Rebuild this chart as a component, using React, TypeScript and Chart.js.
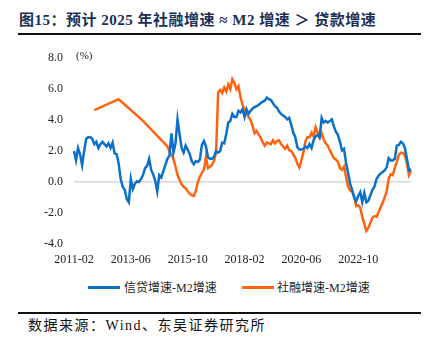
import React, { useEffect, useRef } from 'react';
import { Chart, registerables } from 'chart.js';

Chart.register(...registerables);

// ---- data ----
const START_YEAR = 2011;
const START_MONTH = 2;
const MONTH_COUNT = 167;
const categories: string[] = Array.from({ length: MONTH_COUNT }, (_, i) => {
  const m = START_MONTH - 1 + i;
  return `${START_YEAR + Math.floor(m / 12)}-${String((m % 12) + 1).padStart(2, '0')}`;
});

const xTickLabels = ['2011-02', '2013-06', '2015-10', '2018-02', '2020-06', '2022-10'];
const yMin = -4;
const yMax = 8;
const yStep = 2;

// 信贷增速-M2增速
const loanMinusM2: number[] = [
  2.0, 1.4, 2.2, 1.8, 1.1, 2.0, 2.8, 2.9, 2.9, 2.8,
  2.45, 2.6, 2.2, 2.45, 2.6, 2.45, 2.3, 2.5, 2.2, 2.55,
  1.85, 1.8, 1.2, 0.2, -0.3, -0.5, -1.1, -1.3, 0.2, -0.45,
  -0.1, 0.05, 0.0, 0.2, 0.45, 0.9, 1.05, 1.5, 0.8, 0.5,
  0.1, -0.6, 0.45, 0.3, 0.7, 1.1, 1.5, 1.7, 3.15, 1.9,
  2.5, 4.05, 3.1, 2.2, 1.9, 2.35, 2.1, 1.8, 1.35, 1.15,
  1.35, 1.3, 1.45, 2.4, 2.65, 2.3, 1.6, 1.5, 1.5, 1.65,
  2.0, 1.9, 2.0, 2.55, 2.5, 3.1, 3.85, 3.95, 4.4, 4.2,
  4.2, 4.6, 4.5, 4.7, 4.2, 4.7, 4.4, 4.6, 4.75, 4.85,
  4.9, 5.0, 5.1, 5.2, 5.25, 5.45, 5.35, 5.3, 5.1, 4.9,
  4.8, 4.55, 4.4, 4.3, 4.2, 4.05, 4.15, 3.7, 3.2, 2.9,
  2.25, 2.1, 2.1, 2.15, 2.3, 2.2, 2.45, 2.2, 2.7, 2.95,
  3.05, 2.9, 4.15, 3.85, 3.95, 3.85, 3.95, 4.05, 3.6, 3.25,
  3.05, 2.6, 2.05, 2.15, 1.25, 0.6, -0.1, -0.5, -1.0, -1.25,
  -0.9, -0.65, -1.3, -0.7, -1.3, -1.2, -0.85, -0.5, -0.3, 0.2,
  0.4, 0.55, 0.65, 0.75, 0.95, 1.55, 1.4, 1.4, 1.5, 2.35,
  2.4, 2.6, 2.5, 2.2, 1.5, 0.75, 0.85,
];

// 社融增速-M2增速
const tsfMinusM2: (number | null)[] = [
  null, null, null, null, null, null, null, null, null, null,
  4.65, null, null, null, null, null, null, null, null, null,
  null, null, 5.35, null, null, null, null, null, null, null,
  null, null, null, null, 3.95, null, null, null, null, null,
  null, null, null, null, null, null, 2.3, 2.0, 1.75, 1.5,
  1.0, 0.45, 0.15, -0.15, -0.3, -0.4, -0.6, -0.75, -0.85, -0.9,
  -0.6, 0.0, 0.35, 0.6, 0.8, 1.6, 0.9, 1.0, 1.1, 1.4,
  1.9, 5.8, 5.95, 5.75, 6.1, 5.85, 6.3, 6.0, 6.65, 6.4,
  6.0, 6.2, 5.5, 5.0, 4.7, 4.5, 4.2, 4.0, 3.6, 3.15,
  3.3, 3.05, 2.85, 2.55, 2.35, 2.55, 2.5, 2.45, 2.7, 2.5,
  2.65, 2.7, 2.45, 2.3, 2.15, 2.35, 2.05, 2.0, 1.8, 1.55,
  1.2, 0.95, 1.4, 1.9, 2.65, 2.9, 2.9, 3.2, 2.95, 3.55,
  3.2, 2.85, 3.15, 2.75, 2.5, 2.35, 2.05, 1.8, 1.55, 1.45,
  1.3, 0.9, 0.8, 1.0, 0.35, -0.3, -0.55, -0.6, -0.9, -1.55,
  -1.5, -1.65, -2.25, -2.7, -3.15, -2.95, -2.65, -2.3, -2.2, -2.25,
  -1.95, -1.65, -1.35, -1.0, -0.6, 0.2, 0.5, 0.45, 0.9, 1.3,
  1.75, 1.9, 1.9, 1.7, 1.2, 0.45, 0.75,
];

const BLUE = '#0A70C8';
const ORANGE = '#FF6310';
const SERIF = '"Liberation Serif", "Times New Roman", "Noto Sans CJK SC", serif';

export default function App() {
  const canvasRef = useRef<HTMLCanvasElement | null>(null);

  useEffect(() => {
    const canvas = canvasRef.current;
    if (!canvas) return;
    const tickFont = { family: SERIF, size: 12 };
    const chart = new Chart(canvas, {
      type: 'line',
      data: {
        labels: categories,
        datasets: [
          {
            label: '信贷增速-M2增速',
            data: loanMinusM2,
            borderColor: BLUE,
            backgroundColor: BLUE,
            borderWidth: 2.5,
            pointRadius: 0,
            tension: 0,
          },
          {
            label: '社融增速-M2增速',
            data: tsfMinusM2,
            borderColor: ORANGE,
            backgroundColor: ORANGE,
            borderWidth: 2.5,
            pointRadius: 0,
            tension: 0,
            spanGaps: true,
          },
        ],
      },
      options: {
        animation: false,
        responsive: false,
        maintainAspectRatio: false,
        layout: { padding: { left: 0, right: 25, top: 18, bottom: 8 } },
        plugins: { legend: { display: false }, tooltip: { enabled: false } },
        scales: {
          x: {
            type: 'category',
            offset: false,
            grid: { display: false, drawTicks: false },
            border: { display: false },
            ticks: {
              autoSkip: false,
              maxRotation: 0,
              minRotation: 0,
              padding: 9,
              font: tickFont,
              color: '#222',
              callback: (_v: any, i: number) => (xTickLabels.includes(categories[i]) ? categories[i] : ''),
            },
            afterFit: (s: any) => {
              s.height = 28;
            },
          },
          y: {
            min: yMin,
            max: yMax,
            ticks: {
              stepSize: yStep,
              padding: 11,
              font: tickFont,
              color: '#222',
              callback: (v: any) => Number(v).toFixed(1),
            },
            grid: {
              drawTicks: false,
              lineWidth: 1.5,
              color: (ctx: any) => (ctx.tick && ctx.tick.value === 0 ? '#d9d9d9' : 'rgba(0,0,0,0)'),
            },
            border: { display: false },
            afterFit: (s: any) => {
              s.width = 74;
            },
          },
        },
      },
    });
    return () => chart.destroy();
  }, []);

  const abs = (s: React.CSSProperties): React.CSSProperties => ({ position: 'absolute', ...s });

  return (
    <div style={{ position: 'absolute', left: 0, top: 0, width: 436, height: 352, background: '#fff', fontFamily: SERIF }}>
      <div
        style={abs({
          left: 19,
          top: 11,
          fontSize: 15,
          fontWeight: 'bold',
          color: '#1a2f55',
          whiteSpace: 'nowrap',
          lineHeight: '18px',
          letterSpacing: '0.5px',
        })}
      >
        图15：预计 2025 年社融增速 ≈ M2 增速 ＞ 贷款增速
      </div>
      <div style={abs({ left: 18, top: 33, width: 403, height: 2, background: '#111' })} />
      <canvas ref={canvasRef} width={436} height={240} style={abs({ left: 0, top: 40, width: 436, height: 240 })} />
      <div style={abs({ left: 76, top: 48, fontSize: 11, color: '#222', lineHeight: '14px' })}>(%)</div>
      <div style={abs({ left: 88, top: 286, width: 32, height: 3, background: BLUE })} />
      <div style={abs({ left: 124, top: 280, fontSize: 12, color: '#222', lineHeight: '16px', whiteSpace: 'nowrap' })}>
        信贷增速-M2增速
      </div>
      <div style={abs({ left: 242, top: 286, width: 32, height: 3, background: ORANGE })} />
      <div style={abs({ left: 277, top: 280, fontSize: 12, color: '#222', lineHeight: '16px', whiteSpace: 'nowrap' })}>
        社融增速-M2增速
      </div>
      <div style={abs({ left: 18, top: 312, width: 403, height: 2, background: '#111' })} />
      <div
        style={abs({
          left: 28,
          top: 318,
          fontSize: 14,
          color: '#111',
          lineHeight: '16px',
          whiteSpace: 'nowrap',
          letterSpacing: '1.5px',
        })}
      >
        数据来源：Wind、东吴证券研究所
      </div>
    </div>
  );
}
